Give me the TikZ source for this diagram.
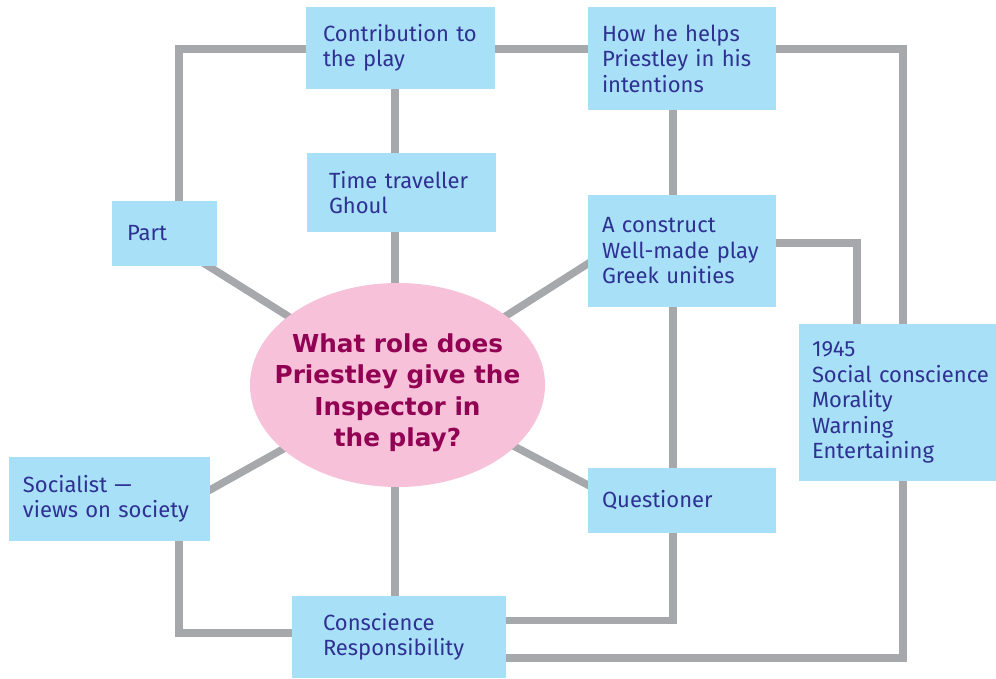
\documentclass[tikz,border=0pt]{standalone}
\usepackage{fontspec}
\setmainfont{Fira Sans}
\newfontfamily\hubfont{DejaVu Sans}
\usetikzlibrary{calc,backgrounds,shapes.geometric}

\definecolor{boxblue}{RGB}{168,224,248}
\definecolor{ink}{RGB}{46,49,146}
\definecolor{hubpink}{RGB}{246,193,217}
\definecolor{hubink}{RGB}{145,0,82}
\definecolor{linkgrey}{RGB}{167,168,172}

\tikzset{
  box/.style={rectangle, fill=boxblue, text=ink, align=left, inner ysep=0pt,
    font=\fontsize{22}{25.5}\selectfont},
  hubnode/.style={ellipse, fill=hubpink, inner sep=0pt,
    minimum width=295pt, minimum height=204pt},
  hubtext/.style={text=hubink, align=center, inner sep=0pt,
    font=\hubfont\bfseries\fontsize{24.7}{31.5}\selectfont},
  link/.style={draw=linkgrey, line width=7.5pt, line join=miter}
}

\begin{document}
\begin{tikzpicture}[x=1pt, y=-1pt]
  \useasboundingbox (0,0) rectangle (996,679);

  % guide positions of the rails
  \coordinate (xl) at (179,0);
  \coordinate (xs) at (395,0);
  \coordinate (xc) at (673,0);
  \coordinate (xm) at (857,0);
  \coordinate (xr) at (903,0);
  \coordinate (ytop) at (0,49);
  \coordinate (ycon) at (0,243);
  \coordinate (yq) at (0,620.5);
  \coordinate (ys) at (0,633);
  \coordinate (yb) at (0,658);

  % central question
  \node[hubnode] (hub) at (397.5,385) {};
  \node[hubtext] (question) at ($(hub.center)+(0,8)$)
    {What role does\\Priestley give the\\Inspector in\\the play?};

  % surrounding boxes
  \node[box, minimum width=189pt, minimum height=82pt, inner xsep=17pt, text width=155pt]
    (contrib) at (400.5,48) {Contribution to\\the play};
  \node[box, minimum width=188pt, minimum height=103pt, inner xsep=14pt, text width=160pt]
    (how) at (682,58.5) {How he helps\\Priestley in his\\intentions};
  \node[box, minimum width=105pt, minimum height=65pt, inner xsep=15pt, text width=75pt]
    (part) at (164.5,233.5) {Part};
  \node[box, minimum width=189pt, minimum height=79pt, inner xsep=22pt, text width=145pt]
    (time) at (401.5,192.5) {Time traveller\\Ghoul};
  \node[box, minimum width=188pt, minimum height=112pt, inner xsep=14pt, text width=160pt]
    (construct) at (682,251) {A construct\\Well-made play\\Greek unities};
  \node[box, minimum width=197pt, minimum height=157pt, inner xsep=13pt, text width=171pt]
    (context) at (897.5,402.5) {1945\\\mbox{Social conscience}\\Morality\\Warning\\Entertaining};
  \node[box, minimum width=188pt, minimum height=65pt, inner xsep=14pt, text width=160pt]
    (quest) at (682,500.5) {Questioner};
  \node[box, minimum width=201pt, minimum height=84pt, inner xsep=14pt, text width=173pt]
    (social) at (109.5,499) {Socialist ---\\views on society};
  \node[box, minimum width=214pt, minimum height=82pt, inner xsep=31pt, text width=152pt]
    (consc) at (399,637) {Conscience\\Responsibility};

  % connectors, kept behind the boxes
  \begin{scope}[on background layer]
    \fill[white] (0,0) rectangle (996,679);
    \draw[link] (part.north -| xl) -- (xl |- ytop) -- (contrib.west |- ytop);
    \draw[link] (contrib.east |- ytop) -- (how.west |- ytop);
    \draw[link] (how.east |- ytop) -- (xr |- ytop) -- (xr |- yb) -- (consc.east |- yb);
    \draw[link] (contrib.south -| xs) -- (consc.north -| xs);
    \draw[link] (how.south -| xc) -- (xc |- yq) -- (consc.east |- yq);
    \draw[link] (construct.east |- ycon) -- (xm |- ycon) -- (context.north -| xm);
    \draw[link] (social.south -| xl) -- (xl |- ys) -- (consc.west |- ys);
    \draw[link] (hub.center) -- ($(part.center)+(0,5)$);
    \draw[link] (hub.center) -- ($(construct.west)+(20,0)$);
    \draw[link] (hub.center) -- ($(social.east)+(-20,2)$);
    \draw[link] (hub.center) -- ($(quest.west)+(20,-5)$);
  \end{scope}
\end{tikzpicture}
\end{document}
